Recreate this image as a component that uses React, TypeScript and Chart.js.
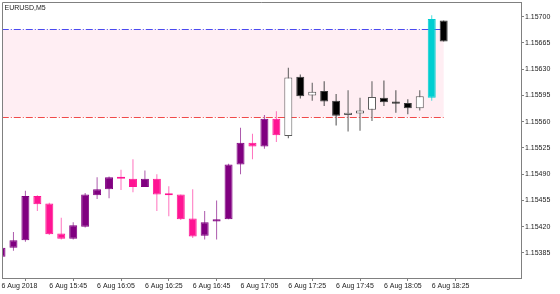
import React, { useEffect, useRef } from 'react';
import { Chart, registerables } from 'chart.js';

Chart.register(...registerables);

// ---- data (M5 bars, 6 Aug 2018) ----
const times = [
  '15:25', '15:30', '15:35', '15:40', '15:45', '15:50', '15:55', '16:00', '16:05', '16:10',
  '16:15', '16:20', '16:25', '16:30', '16:35', '16:40', '16:45', '16:50', '16:55', '17:00',
  '17:05', '17:10', '17:15', '17:20', '17:25', '17:30', '17:35', '17:40', '17:45', '17:50',
  '17:55', '18:00', '18:05', '18:10', '18:15', '18:20', '18:25', '18:30',
];
const openP = [
  1.15380, 1.15392, 1.15402, 1.15461, 1.15451, 1.15411, 1.15404, 1.15420, 1.15462, 1.15470,
  1.15485, 1.15484, 1.15473, 1.15484, 1.15463, 1.15463, 1.15431, 1.15408, 1.15427, 1.15430,
  1.15503, 1.15532, 1.15527, 1.15564, 1.15541, 1.15620, 1.15595, 1.15601, 1.15588, 1.15569,
  1.15571, 1.15576, 1.15592, 1.15587, 1.15585, 1.15578, 1.15592, 1.15695,
];
const highP = [
  1.15392, 1.15413, 1.15468, 1.15462, 1.15452, 1.15432, 1.15426, 1.15465, 1.15486, 1.15487,
  1.15496, 1.15510, 1.15495, 1.15490, 1.15474, 1.15463, 1.15470, 1.15441, 1.15455, 1.15504,
  1.15552, 1.15544, 1.15569, 1.15574, 1.15632, 1.15623, 1.15612, 1.15614, 1.15597, 1.15602,
  1.15592, 1.15614, 1.15615, 1.15602, 1.15590, 1.15602, 1.15702, 1.15695,
];
const lowP = [
  1.15379, 1.15388, 1.15400, 1.15441, 1.15409, 1.15403, 1.15403, 1.15419, 1.15457, 1.15458,
  1.15469, 1.15466, 1.15473, 1.15441, 1.15434, 1.15429, 1.15405, 1.15403, 1.15403, 1.15430,
  1.15490, 1.15510, 1.15524, 1.15533, 1.15538, 1.15591, 1.15588, 1.15581, 1.15555, 1.15547,
  1.15548, 1.15561, 1.15581, 1.15572, 1.15570, 1.15575, 1.15588, 1.15667,
];
const closeP = [
  1.15392, 1.15402, 1.15461, 1.15450, 1.15410, 1.15404, 1.15422, 1.15463, 1.15470, 1.15486,
  1.15484, 1.15473, 1.15484, 1.15463, 1.15462, 1.15430, 1.15407, 1.15426, 1.15430, 1.15503,
  1.15532, 1.15527, 1.15564, 1.15542, 1.15619, 1.15594, 1.15600, 1.15587, 1.15568, 1.15572,
  1.15575, 1.15593, 1.15586, 1.15584, 1.15578, 1.15594, 1.15697, 1.15667,
];

const tickBars = [0, 4, 8, 12, 16, 20, 24, 28, 32, 36];
const tickLabels = [
  '6 Aug 2018', '6 Aug 15:45', '6 Aug 16:05', '6 Aug 16:25', '6 Aug 16:45',
  '6 Aug 17:05', '6 Aug 17:25', '6 Aug 17:45', '6 Aug 18:05', '6 Aug 18:25',
];
const priceTicks = [
  1.15385, 1.15420, 1.15455, 1.15490, 1.15525, 1.15560, 1.15595, 1.15630, 1.15665, 1.15700,
];

// range box
const rangeHigh = 1.15683;
const rangeLow = 1.15566;
const rangeFromBar = -6;
const rangeToBar = 37;
const rangeStartBar = 24;

const symbolLabel = 'EURUSD,M5';

// view window
const xMin = 0.042;
const xMax = 43.47;
const yMin = 1.153516;
const yMax = 1.157196;

// ---- styles ----
const PURPLE = '#800080';
const PINK = '#FF1493';
const CYAN = '#00CED1';
const FONT = { family: 'Liberation Sans, Arial, sans-serif', size: 7 };

function bodyStyle(i: number) {
  const up = closeP[i] >= openP[i];
  if (i >= rangeStartBar) {
    if (closeP[i] > rangeHigh) return { fill: CYAN, border: CYAN, wick: 'rgba(0,206,209,0.7)' };
    return up
      ? { fill: '#FFFFFF', border: '#5a5a5a', wick: '#5a5a5a' }
      : { fill: '#000000', border: '#3a3a3a', wick: '#4a4a4a' };
  }
  return up
    ? { fill: PURPLE, border: PURPLE, wick: 'rgba(128,0,128,0.65)' }
    : { fill: PINK, border: PINK, wick: 'rgba(255,20,147,0.6)' };
}

const zonePlugin = {
  id: 'zonePlugin',
  beforeDatasetsDraw(chart: any) {
    const { ctx, chartArea: a, scales } = chart;
    const x = scales.x;
    const y = scales.y;
    const x0 = x.getPixelForValue(rangeFromBar);
    const x1 = x.getPixelForValue(rangeToBar);
    const yT = y.getPixelForValue(rangeHigh);
    const yB = y.getPixelForValue(rangeLow);
    ctx.save();
    ctx.beginPath();
    ctx.rect(a.left, a.top, a.right - a.left, a.bottom - a.top);
    ctx.clip();
    ctx.fillStyle = '#FFEEF3';
    ctx.fillRect(x0, yT, x1 - x0, yB - yT);
    ctx.lineWidth = 1;
    ctx.setLineDash([7, 2, 1, 2]);
    ctx.strokeStyle = '#4a4aF0';
    ctx.beginPath();
    ctx.moveTo(x0, Math.round(yT) + 0.5);
    ctx.lineTo(x1, Math.round(yT) + 0.5);
    ctx.stroke();
    ctx.strokeStyle = '#F04a4a';
    ctx.beginPath();
    ctx.moveTo(x0, Math.round(yB) + 0.5);
    ctx.lineTo(x1, Math.round(yB) + 0.5);
    ctx.stroke();
    ctx.restore();
  },
  afterDraw(chart: any) {
    const { ctx, chartArea: a } = chart;
    ctx.save();
    ctx.strokeStyle = '#808080';
    ctx.lineWidth = 1;
    ctx.beginPath();
    ctx.moveTo(a.left + 0.5, a.bottom);
    ctx.lineTo(a.left + 0.5, a.top + 0.5);
    ctx.lineTo(a.right, a.top + 0.5);
    ctx.stroke();
    ctx.fillStyle = '#222222';
    ctx.font = `${FONT.size}px ${FONT.family}`;
    ctx.textBaseline = 'alphabetic';
    ctx.textAlign = 'left';
    ctx.fillText(symbolLabel, a.left + 2.5, a.top + 7.5);
    ctx.restore();
  },
};

function zeroPad(s: any) {
  s.paddingTop = 0;
  s.paddingBottom = 0;
  s.paddingLeft = 0;
  s.paddingRight = 0;
}

export default function App() {
  const ref = useRef<HTMLCanvasElement>(null);
  useEffect(() => {
    if (!ref.current) return;
    const styles = times.map((_, i) => bodyStyle(i));
    const chart = new Chart(ref.current, {
      type: 'bar',
      data: {
        datasets: [
          {
            label: 'body',
            data: times.map((_, i) => ({ x: i, y: [openP[i], closeP[i]] })) as any,
            backgroundColor: styles.map((s) => s.fill),
            borderColor: styles.map((s) => s.border),
            borderWidth: 1,
            borderSkipped: false,
            grouped: false,
            maxBarThickness: 8,
            minBarLength: 2,
          } as any,
          {
            label: 'wick',
            data: times.map((_, i) => ({ x: i, y: [lowP[i], highP[i]] })) as any,
            backgroundColor: styles.map((s) => s.wick),
            borderWidth: 0,
            grouped: false,
            maxBarThickness: 1,
          } as any,
        ],
      },
      options: {
        responsive: false,
        animation: false,
        events: [],
        layout: { padding: { left: 2, top: 2, right: 0, bottom: 0 } },
        plugins: { legend: { display: false }, tooltip: { enabled: false } },
        scales: {
          x: {
            type: 'linear',
            min: xMin,
            max: xMax,
            offset: false,
            afterBuildTicks: (s: any) => {
              s.ticks = tickBars.map((v) => ({ value: v }));
            },
            afterFit: (s: any) => {
              s.height = 16;
              zeroPad(s);
            },
            ticks: {
              autoSkip: false,
              maxRotation: 0,
              minRotation: 0,
              align: 'start',
              padding: 1,
              color: '#222222',
              font: FONT,
              callback: (v: any) => {
                const k = tickBars.indexOf(Math.round(Number(v)));
                return k >= 0 ? tickLabels[k] : '';
              },
            },
            grid: { drawOnChartArea: false, drawTicks: true, tickLength: 3, color: '#808080' },
            border: { display: true, color: '#808080' },
          } as any,
          y: {
            type: 'linear',
            position: 'right',
            min: yMin,
            max: yMax,
            afterBuildTicks: (s: any) => {
              s.ticks = priceTicks.map((v) => ({ value: v }));
            },
            afterFit: (s: any) => {
              s.width = 39;
              zeroPad(s);
            },
            ticks: {
              padding: 1,
              color: '#222222',
              font: FONT,
              callback: (v: any) => Number(v).toFixed(5),
            },
            grid: { drawOnChartArea: false, drawTicks: true, tickLength: 3, color: '#808080' },
            border: { display: true, color: '#808080' },
          } as any,
        },
      },
      plugins: [zonePlugin],
    });
    return () => chart.destroy();
  }, []);
  return (
    <div style={{ position: 'fixed', left: 0, top: 0, width: 560, height: 294, background: '#fff' }}>
      <canvas ref={ref} width={560} height={294} style={{ display: 'block' }} />
    </div>
  );
}
